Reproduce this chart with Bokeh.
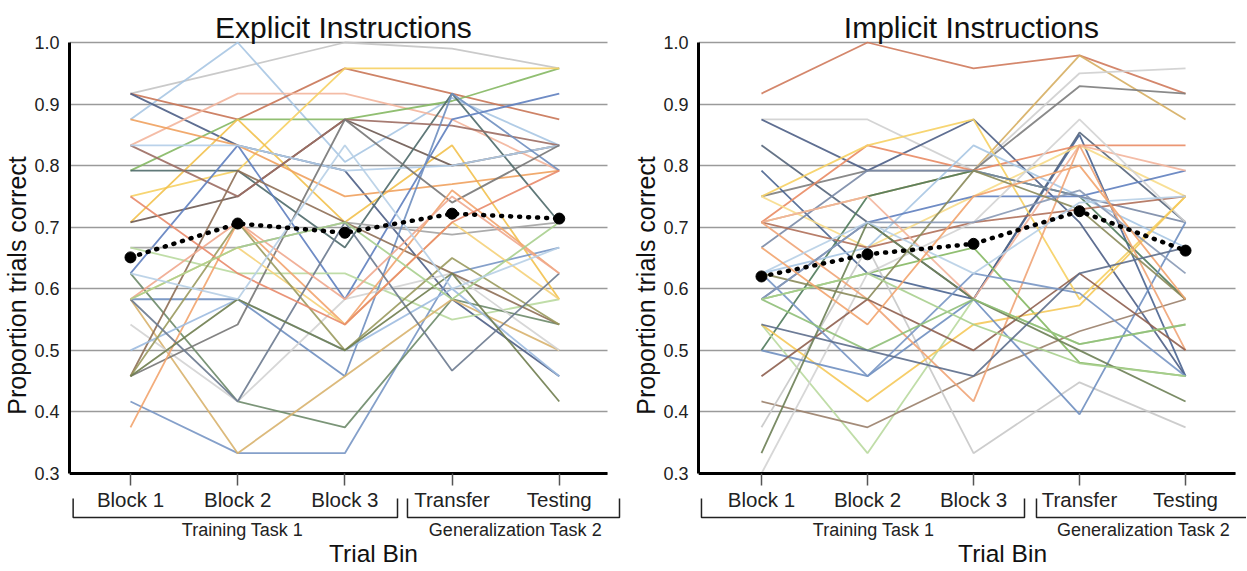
from bokeh.plotting import figure
from bokeh.layouts import row
from bokeh.models import Range1d, FixedTicker, PrintfTickFormatter
from bokeh.core.properties import value
from bokeh.embed import file_html
from bokeh.resources import INLINE

# ---------------- data ----------------
categories = ["Block 1", "Block 2", "Block 3", "Transfer", "Testing"]
group_labels = ["Training Task 1", "Generalization Task 2"]
panel_titles = ["Explicit Instructions", "Implicit Instructions"]
x_title = "Trial Bin"
y_title = "Proportion trials correct"
y_ticks = [0.3, 0.4, 0.5, 0.6, 0.7, 0.8, 0.9, 1.0]

explicit_mean = [0.651, 0.706, 0.691, 0.722, 0.714]
implicit_mean = [0.620, 0.656, 0.673, 0.726, 0.662]

explicit_participants = [
    [0.917, 0.958, 1.000, 0.990, 0.958],
    [0.875, 1.000, 0.806, 0.910, 0.833],
    [0.917, 0.875, 0.958, 0.917, 0.875],
    [0.917, 0.833, 0.792, 0.583, 0.458],
    [0.833, 0.917, 0.917, 0.875, 0.792],
    [0.792, 0.875, 0.875, 0.905, 0.958],
    [0.750, 0.792, 0.958, 0.958, 0.958],
    [0.708, 0.875, 0.708, 0.833, 0.583],
    [0.875, 0.833, 0.750, 0.770, 0.792],
    [0.708, 0.750, 0.875, 0.800, 0.833],
    [0.792, 0.792, 0.667, 0.917, 0.708],
    [0.833, 0.750, 0.875, 0.865, 0.833],
    [0.625, 0.833, 0.583, 0.875, 0.917],
    [0.833, 0.833, 0.792, 0.800, 0.833],
    [0.667, 0.667, 0.708, 0.688, 0.708],
    [0.667, 0.625, 0.625, 0.550, 0.583],
    [0.583, 0.583, 0.458, 0.917, 0.792],
    [0.417, 0.333, 0.333, 0.625, 0.667],
    [0.625, 0.417, 0.375, 0.583, 0.542],
    [0.583, 0.333, 0.458, 0.583, 0.500],
    [0.542, 0.417, 0.583, 0.625, 0.500],
    [0.458, 0.792, 0.708, 0.625, 0.542],
    [0.458, 0.542, 0.875, 0.740, 0.833],
    [0.375, 0.708, 0.542, 0.760, 0.625],
    [0.500, 0.583, 0.500, 0.600, 0.458],
    [0.583, 0.667, 0.542, 0.708, 0.583],
    [0.458, 0.708, 0.500, 0.650, 0.542],
    [0.583, 0.417, 0.708, 0.467, 0.625],
    [0.583, 0.708, 0.583, 0.750, 0.625],
    [0.750, 0.625, 0.542, 0.708, 0.792],
    [0.458, 0.583, 0.500, 0.625, 0.417],
    [0.583, 0.667, 0.708, 0.583, 0.708],
    [0.625, 0.583, 0.833, 0.600, 0.667],
]

implicit_participants = [
    [0.917, 1.000, 0.958, 0.979, 0.917],
    [0.708, 0.750, 0.792, 0.979, 0.875],
    [0.875, 0.875, 0.792, 0.950, 0.958],
    [0.750, 0.792, 0.792, 0.929, 0.917],
    [0.875, 0.792, 0.875, 0.708, 0.458],
    [0.833, 0.708, 0.583, 0.854, 0.708],
    [0.792, 0.625, 0.583, 0.850, 0.458],
    [0.708, 0.833, 0.792, 0.833, 0.833],
    [0.750, 0.833, 0.875, 0.583, 0.750],
    [0.750, 0.667, 0.750, 0.833, 0.750],
    [0.500, 0.750, 0.792, 0.750, 0.583],
    [0.625, 0.667, 0.833, 0.750, 0.667],
    [0.583, 0.708, 0.750, 0.750, 0.792],
    [0.667, 0.792, 0.792, 0.750, 0.708],
    [0.708, 0.667, 0.708, 0.729, 0.750],
    [0.708, 0.750, 0.583, 0.833, 0.792],
    [0.583, 0.625, 0.667, 0.480, 0.458],
    [0.542, 0.333, 0.583, 0.510, 0.542],
    [0.417, 0.375, 0.458, 0.531, 0.583],
    [0.300, 0.625, 0.708, 0.875, 0.708],
    [0.375, 0.667, 0.333, 0.448, 0.375],
    [0.542, 0.417, 0.542, 0.573, 0.750],
    [0.500, 0.458, 0.583, 0.396, 0.708],
    [0.708, 0.583, 0.417, 0.833, 0.500],
    [0.458, 0.583, 0.500, 0.625, 0.500],
    [0.333, 0.708, 0.583, 0.500, 0.417],
    [0.625, 0.458, 0.625, 0.593, 0.458],
    [0.583, 0.500, 0.583, 0.510, 0.542],
    [0.625, 0.583, 0.792, 0.729, 0.583],
    [0.583, 0.708, 0.708, 0.760, 0.625],
    [0.583, 0.625, 0.542, 0.479, 0.458],
    [0.625, 0.708, 0.625, 0.740, 0.750],
    [0.667, 0.542, 0.750, 0.800, 0.583],
    [0.542, 0.500, 0.458, 0.625, 0.667],
]

# ---------------- styles ----------------
explicit_colors = [
    "#c4c4c4", "#a9c6e3", "#c97656", "#4e5f86", "#f3b59c", "#85b863", "#f6d063",
    "#f2c14e", "#f0a15e", "#6e5a52", "#4f6a6a", "#9c6d63", "#5f7fbf", "#b3cde8",
    "#a3a3a3", "#b9d99f", "#6f8fc0", "#7896c4", "#6d8a69", "#d8b36e", "#d3d3d3",
    "#8e6f57", "#777777", "#f2a46e", "#9dbbe0", "#f5d27a", "#9a9a5e", "#6b7a8f",
    "#f0a88e", "#e8896a", "#6f7d4f", "#a8cf8e", "#b7cfe6",
]
implicit_colors = [
    "#cf7a5c", "#d6ae62", "#cfcfcf", "#7d7d7d", "#4e5f86", "#55657a", "#4a6490",
    "#e98b64", "#f6d063", "#f7dc8a", "#4f7a5a", "#a9c6e3", "#5f7fbf", "#7a8aa6",
    "#b0705a", "#f3b59c", "#85b863", "#b9d99f", "#9a806a", "#d3d3d3", "#c8c8c8",
    "#f5c95a", "#6f8fc0", "#f0a477", "#8e5f4f", "#6d7f55", "#7896c4", "#8fbf78",
    "#8a8a5a", "#8899b5", "#a8cf8e", "#b7cfe6", "#f2a46e", "#5d6e8c",
]

FONT = "Liberation Sans"
PX_PER_UNIT = 615.7
H = 570
Y1 = 1.0 + 42 / PX_PER_UNIT
Y0 = Y1 - H / PX_PER_UNIT


def ypix(offset_below_axis):
    return 0.3 - offset_below_axis / PX_PER_UNIT


def build(title, participants, colors, means, width, border_left, xr, axis_end,
          br1, br2, grp_x, trial_x, title_x):
    p = figure(width=width, height=H, output_backend="svg", toolbar_location=None,
               x_range=Range1d(*xr), y_range=Range1d(Y0, Y1),
               min_border_left=border_left, min_border_right=0,
               min_border_top=0, min_border_bottom=0,
               outline_line_color=None)
    p.title.visible = False

    # y axis
    ya = p.yaxis[0]
    ya.ticker = FixedTicker(ticks=y_ticks)
    ya.formatter = PrintfTickFormatter(format="%.1f")
    ya.bounds = (0.3, 1.0)
    ya.axis_line_width = 3
    ya.axis_line_color = "black"
    ya.major_tick_in = 0
    ya.major_tick_out = 0
    ya.minor_tick_in = 0
    ya.minor_tick_out = 0
    ya.major_tick_line_color = None
    ya.minor_tick_line_color = None
    ya.major_label_text_font = FONT
    ya.major_label_text_font_size = "18px"
    ya.major_label_text_color = "#222222"
    ya.major_label_standoff = 10
    ya.axis_label = y_title
    ya.axis_label_text_font = FONT
    ya.axis_label_text_font_size = "25px"
    ya.axis_label_text_font_style = "normal"
    ya.axis_label_text_color = "#111111"
    ya.axis_label_standoff = 0

    # x axis
    xa = p.xaxis[0]
    xa.fixed_location = 0.3
    xa.ticker = FixedTicker(ticks=list(range(len(categories))))
    xa.major_label_overrides = {i: c for i, c in enumerate(categories)}
    xa.bounds = (xr[0], axis_end)
    xa.axis_line_width = 3
    xa.axis_line_color = "black"
    xa.major_tick_in = 0
    xa.major_tick_out = 12
    xa.major_tick_line_color = "#555555"
    xa.major_tick_line_width = 1.5
    xa.minor_tick_line_color = None
    xa.major_label_text_font = FONT
    xa.major_label_text_font_size = "20.5px"
    xa.major_label_text_color = "#222222"
    xa.major_label_standoff = 3

    # grid
    p.xgrid.visible = False
    p.ygrid.grid_line_color = "#9a9a9a"
    p.ygrid.grid_line_width = 1.5
    p.ygrid.cross_bounds = (xr[0], axis_end)

    xs = list(range(len(categories)))
    p.multi_line(xs=[xs] * len(participants), ys=participants,
                 line_color=colors, line_width=1.8, line_alpha=0.9)

    p.line(xs, means, line_color="black", line_width=4.5, line_dash="1 8",
           line_cap="round")
    p.scatter(xs, means, size=11, color="black")

    # brackets
    top, bot = ypix(25), ypix(44)
    for a, b in (br1, br2):
        p.line([a, a, b, b], [top, bot, bot, top], line_color="#222222",
               line_width=1.5)
    p.text(x=list(grp_x), y=[ypix(57)] * 2, text=group_labels,
           text_font=value(FONT), text_font_size=value("18px"),
           text_align="center", text_baseline="middle", text_color="#222222")
    p.text(x=[trial_x], y=[ypix(80)], text=[x_title],
           text_font=value(FONT), text_font_size=value("24.5px"),
           text_align="center", text_baseline="middle", text_color="#111111")
    p.text(x=[title_x], y=[Y1 - 27 / PX_PER_UNIT], text=[title],
           text_font=value(FONT), text_font_size=value("30px"),
           text_align="center", text_baseline="alphabetic", text_color="#111111")
    return p


p1 = build(panel_titles[0], explicit_participants, explicit_colors, explicit_mean,
           width=622, border_left=69, xr=(-0.569, 4.590), axis_end=4.450,
           br1=(-0.535, 2.491), br2=(2.584, 4.562), grp_x=(1.045, 3.591),
           trial_x=2.267, title_x=1.987)
p2 = build(panel_titles[1], implicit_participants, implicit_colors, implicit_mean,
           width=624, border_left=76, xr=(-0.594, 4.575), axis_end=4.472,
           br1=(-0.566, 2.481), br2=(2.594, 4.8), grp_x=(1.057, 3.604),
           trial_x=2.274, title_x=1.98)

layout = row(p1, p2)
open("out.html", "w").write(file_html(layout, INLINE))
